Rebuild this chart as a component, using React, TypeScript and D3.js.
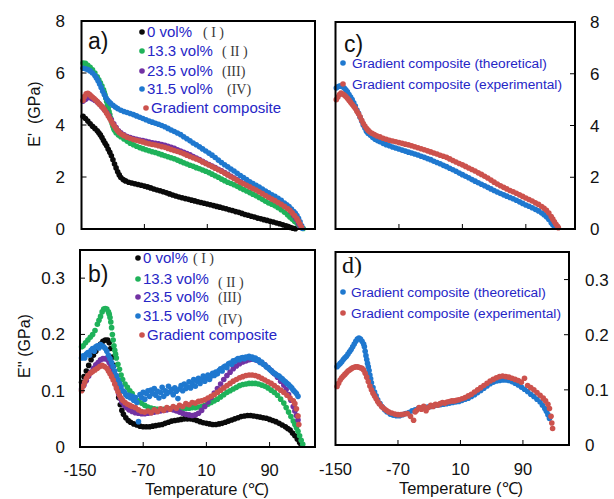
import React from "react";
import * as d3 from "d3";

type Pt = [number, number];

// ---------- Tick values & labels ----------
const xTicks = [-150, -70, 10, 90];
const storageTicks = [0, 2, 4, 6, 8];
const lossTicks = [0, 0.1, 0.2, 0.3];
const volLabels = ["0 vol%", "13.3 vol%", "23.5 vol%", "31.5 vol%", "Gradient composite"];
const romanLabels = ["( I )", "( II )", "(III)", "(IV)", ""];
const modelLabels = ["Gradient composite (theoretical)", "Gradient composite (experimental)"];

// ---------- a) storage modulus E' (GPa) ----------
const storage0: Pt[] = [
  [-148, 4.33], [-145, 4.25], [-142, 4.15], [-139, 4.05], [-136, 3.95], [-133, 3.87], [-130, 3.78], [-128, 3.7],
  [-126, 3.62], [-124, 3.52], [-122, 3.4], [-120, 3.3], [-118, 3.2], [-116, 3.07], [-114, 2.95], [-112, 2.82],
  [-110, 2.66], [-108, 2.5], [-106, 2.35], [-104, 2.2], [-102, 2.08], [-100, 1.98], [-97, 1.9], [-94, 1.85],
  [-90, 1.8], [-86, 1.77], [-82, 1.74], [-78, 1.71], [-74, 1.68], [-70, 1.65], [-66, 1.62], [-62, 1.58],
  [-58, 1.54], [-54, 1.5], [-50, 1.47], [-46, 1.43], [-42, 1.39], [-38, 1.35], [-34, 1.31], [-30, 1.27],
  [-26, 1.23], [-22, 1.2], [-18, 1.17], [-14, 1.14], [-10, 1.11], [-6, 1.08], [-2, 1.05], [2, 1.02],
  [6, 0.99], [10, 0.96], [14, 0.93], [18, 0.9], [22, 0.87], [26, 0.84], [30, 0.81], [34, 0.78],
  [38, 0.74], [42, 0.71], [46, 0.67], [50, 0.64], [54, 0.6], [58, 0.56], [62, 0.53], [66, 0.49],
  [70, 0.46], [74, 0.42], [78, 0.39], [82, 0.36], [86, 0.33], [90, 0.3], [94, 0.27], [98, 0.23],
  [102, 0.2], [106, 0.16], [110, 0.12], [113, 0.09], [116, 0.06], [119, 0.03], [122, 0.01],
];
const storage13: Pt[] = [
  [-148, 6.38], [-145, 6.37], [-142, 6.3], [-139, 6.22], [-136, 6.12], [-133, 6.0], [-130, 5.85], [-128, 5.74],
  [-126, 5.62], [-124, 5.5], [-122, 5.35], [-121, 5.25], [-120, 5.15], [-119, 5.03], [-118, 4.9], [-117, 4.77],
  [-116, 4.65], [-115, 4.52], [-114, 4.4], [-113, 4.27], [-112, 4.15], [-111, 4.05], [-110, 3.95], [-109, 3.87],
  [-108, 3.8], [-106, 3.7], [-103, 3.62], [-100, 3.55], [-96, 3.46], [-92, 3.38], [-88, 3.3], [-84, 3.24],
  [-80, 3.18], [-76, 3.13], [-72, 3.09], [-68, 3.05], [-64, 3.01], [-60, 2.97], [-56, 2.94], [-52, 2.9],
  [-48, 2.86], [-44, 2.82], [-40, 2.78], [-36, 2.74], [-32, 2.7], [-28, 2.65], [-24, 2.6], [-20, 2.55],
  [-16, 2.5], [-12, 2.45], [-8, 2.41], [-4, 2.36], [0, 2.32], [4, 2.27], [8, 2.22], [12, 2.17],
  [16, 2.11], [20, 2.05], [24, 1.99], [28, 1.92], [32, 1.86], [36, 1.8], [40, 1.75], [44, 1.7],
  [48, 1.64], [52, 1.58], [56, 1.52], [60, 1.46], [64, 1.4], [68, 1.34], [72, 1.28], [76, 1.21],
  [80, 1.14], [84, 1.07], [88, 1.0], [92, 0.95], [96, 0.89], [100, 0.82], [104, 0.74], [108, 0.65],
  [112, 0.55], [115, 0.46], [118, 0.38], [121, 0.3], [124, 0.22], [127, 0.13], [130, 0.06], [132, 0.02],
];
const storage23: Pt[] = [
  [-148, 4.92], [-145, 4.98], [-142, 5.05], [-139, 5.05], [-136, 5.0], [-133, 4.95], [-130, 4.88], [-127, 4.8],
  [-124, 4.7], [-121, 4.6], [-118, 4.48], [-115, 4.35], [-112, 4.2], [-109, 4.05], [-106, 3.9], [-103, 3.78],
  [-100, 3.7], [-96, 3.62], [-92, 3.56], [-88, 3.52], [-84, 3.48], [-80, 3.45], [-76, 3.42], [-72, 3.4],
  [-68, 3.37], [-64, 3.34], [-60, 3.32], [-56, 3.3], [-52, 3.28], [-48, 3.25], [-44, 3.22], [-40, 3.18],
  [-36, 3.14], [-32, 3.1], [-28, 3.05], [-24, 3.0], [-20, 2.95], [-16, 2.9], [-12, 2.85], [-8, 2.79],
  [-4, 2.73], [0, 2.67], [4, 2.6], [8, 2.54], [12, 2.48], [16, 2.42], [20, 2.36], [24, 2.3],
  [28, 2.24], [32, 2.17], [36, 2.1], [40, 2.03], [44, 1.96], [48, 1.89], [52, 1.82], [56, 1.76],
  [60, 1.7], [64, 1.64], [68, 1.58], [72, 1.52], [76, 1.45], [80, 1.38], [84, 1.31], [88, 1.24],
  [92, 1.17], [96, 1.11], [100, 1.04], [104, 0.97], [108, 0.89], [112, 0.8], [116, 0.68], [120, 0.52],
  [123, 0.38], [126, 0.22], [128, 0.12],
];
const storage31: Pt[] = [
  [-148, 6.18], [-145, 6.16], [-142, 6.13], [-139, 6.08], [-136, 6.0], [-133, 5.9], [-131, 5.81], [-129, 5.7],
  [-127, 5.58], [-125, 5.44], [-123, 5.3], [-121, 5.17], [-119, 5.05], [-117, 4.96], [-115, 4.89], [-113, 4.83],
  [-110, 4.76], [-107, 4.69], [-104, 4.63], [-100, 4.57], [-96, 4.52], [-92, 4.48], [-88, 4.44], [-84, 4.4],
  [-80, 4.35], [-76, 4.3], [-72, 4.25], [-68, 4.2], [-64, 4.15], [-60, 4.11], [-56, 4.07], [-52, 4.03],
  [-48, 3.98], [-44, 3.93], [-40, 3.87], [-36, 3.81], [-32, 3.75], [-28, 3.69], [-24, 3.63], [-20, 3.55],
  [-16, 3.47], [-12, 3.39], [-8, 3.31], [-4, 3.24], [0, 3.16], [4, 3.08], [8, 3.0], [12, 2.92],
  [16, 2.84], [20, 2.75], [24, 2.65], [28, 2.56], [32, 2.47], [36, 2.39], [40, 2.31], [44, 2.23],
  [48, 2.14], [52, 2.06], [56, 1.98], [60, 1.9], [64, 1.82], [68, 1.75], [72, 1.68], [76, 1.61],
  [80, 1.54], [84, 1.46], [88, 1.39], [92, 1.32], [96, 1.26], [100, 1.18], [104, 1.1], [108, 1.0],
  [111, 0.93], [114, 0.86], [117, 0.77], [120, 0.67], [122, 0.6], [124, 0.52], [126, 0.41], [128, 0.28],
  [130, 0.12], [131, 0.03],
];
const storageGrad: Pt[] = [
  [-148, 4.95], [-146, 5.1], [-144, 5.2], [-142, 5.22], [-140, 5.18], [-138, 5.12], [-136, 5.07], [-134, 5.02],
  [-132, 4.96], [-130, 4.9], [-128, 4.83], [-126, 4.77], [-124, 4.7], [-122, 4.63], [-120, 4.55], [-118, 4.45],
  [-116, 4.35], [-114, 4.25], [-112, 4.14], [-110, 4.04], [-108, 3.95], [-106, 3.86], [-104, 3.78], [-102, 3.71],
  [-99, 3.64], [-96, 3.59], [-92, 3.53], [-88, 3.48], [-84, 3.44], [-80, 3.41], [-76, 3.38], [-72, 3.35],
  [-68, 3.31], [-64, 3.28], [-60, 3.25], [-56, 3.23], [-52, 3.2], [-48, 3.17], [-44, 3.14], [-40, 3.1],
  [-36, 3.06], [-32, 3.02], [-28, 2.98], [-24, 2.94], [-20, 2.89], [-16, 2.84], [-12, 2.79], [-8, 2.74],
  [-4, 2.69], [0, 2.64], [4, 2.58], [8, 2.52], [12, 2.46], [16, 2.4], [20, 2.34], [24, 2.28],
  [28, 2.22], [32, 2.15], [36, 2.08], [40, 2.01], [44, 1.94], [48, 1.87], [52, 1.8], [56, 1.74],
  [60, 1.68], [64, 1.62], [68, 1.56], [72, 1.5], [76, 1.43], [80, 1.36], [84, 1.29], [88, 1.22],
  [92, 1.15], [96, 1.09], [100, 1.02], [104, 0.95], [108, 0.87], [112, 0.79], [115, 0.72], [118, 0.62],
  [121, 0.52], [124, 0.4], [126, 0.3], [128, 0.18], [130, 0.07],
];

// ---------- b) loss modulus E'' (GPa) ----------
const loss0: Pt[] = [
  [-148, 0.115], [-145, 0.125], [-142, 0.135], [-139, 0.145], [-136, 0.155], [-133, 0.163], [-130, 0.17], [-127, 0.177],
  [-124, 0.183], [-121, 0.188], [-118, 0.19], [-115, 0.19], [-113, 0.185], [-111, 0.175], [-109, 0.16], [-107, 0.145],
  [-105, 0.125], [-103, 0.105], [-101, 0.088], [-99, 0.075], [-97, 0.065], [-95, 0.058], [-92, 0.052], [-89, 0.047],
  [-86, 0.044], [-82, 0.041], [-78, 0.039], [-74, 0.037], [-70, 0.036], [-66, 0.036], [-62, 0.036], [-58, 0.037],
  [-54, 0.038], [-50, 0.039], [-46, 0.04], [-42, 0.042], [-38, 0.044], [-34, 0.046], [-30, 0.047], [-26, 0.048],
  [-22, 0.049], [-18, 0.05], [-14, 0.05], [-10, 0.05], [-6, 0.049], [-2, 0.047], [2, 0.045], [6, 0.043],
  [10, 0.042], [14, 0.041], [18, 0.04], [22, 0.04], [26, 0.041], [30, 0.042], [34, 0.044], [38, 0.046],
  [42, 0.048], [46, 0.05], [50, 0.052], [54, 0.054], [58, 0.055], [62, 0.056], [66, 0.056], [70, 0.055],
  [74, 0.054], [78, 0.053], [82, 0.052], [86, 0.051], [90, 0.049], [94, 0.047], [98, 0.045], [102, 0.042],
  [106, 0.039], [110, 0.036], [113, 0.033], [116, 0.03], [119, 0.025], [122, 0.02], [125, 0.014], [128, 0.008],
  [130, 0.004],
];
const loss13: Pt[] = [
  [-148, 0.178], [-146, 0.18], [-143, 0.185], [-140, 0.19], [-137, 0.195], [-134, 0.2], [-131, 0.207], [-128, 0.218],
  [-126, 0.225], [-124, 0.232], [-122, 0.24], [-120, 0.245], [-118, 0.246], [-116, 0.245], [-114, 0.24], [-113, 0.236],
  [-112, 0.23], [-111, 0.222], [-110, 0.212], [-109, 0.2], [-108, 0.19], [-107, 0.18], [-106, 0.172], [-105, 0.165],
  [-104, 0.158], [-102, 0.147], [-100, 0.138], [-98, 0.128], [-96, 0.12], [-93, 0.112], [-90, 0.106], [-87, 0.1],
  [-84, 0.095], [-80, 0.088], [-76, 0.082], [-72, 0.078], [-68, 0.074], [-64, 0.071], [-60, 0.069], [-56, 0.068],
  [-52, 0.067], [-48, 0.067], [-44, 0.067], [-40, 0.067], [-36, 0.068], [-32, 0.068], [-28, 0.069], [-24, 0.069],
  [-20, 0.069], [-16, 0.069], [-12, 0.069], [-8, 0.07], [-4, 0.07], [0, 0.071], [4, 0.072], [8, 0.074],
  [12, 0.076], [16, 0.079], [20, 0.082], [24, 0.085], [28, 0.089], [32, 0.093], [36, 0.097], [40, 0.1],
  [44, 0.103], [48, 0.106], [52, 0.109], [56, 0.111], [60, 0.112], [64, 0.113], [68, 0.113], [72, 0.113],
  [76, 0.112], [80, 0.11], [84, 0.108], [88, 0.105], [92, 0.101], [96, 0.097], [100, 0.092], [104, 0.085],
  [108, 0.078], [111, 0.07], [114, 0.062], [117, 0.054], [120, 0.046], [122, 0.04], [124, 0.034], [126, 0.028],
  [128, 0.02], [130, 0.012], [132, 0.005],
];
const loss23: Pt[] = [
  [-148, 0.103], [-145, 0.11], [-142, 0.118], [-139, 0.126], [-136, 0.133], [-133, 0.14], [-130, 0.146], [-127, 0.15],
  [-124, 0.155], [-121, 0.157], [-118, 0.157], [-115, 0.155], [-113, 0.15], [-111, 0.143], [-109, 0.134], [-107, 0.124],
  [-105, 0.113], [-103, 0.103], [-101, 0.094], [-99, 0.086], [-97, 0.08], [-94, 0.074], [-91, 0.07], [-88, 0.066],
  [-84, 0.063], [-80, 0.061], [-76, 0.06], [-72, 0.059], [-68, 0.059], [-64, 0.06], [-60, 0.061], [-56, 0.062],
  [-52, 0.063], [-48, 0.064], [-44, 0.065], [-40, 0.066], [-36, 0.067], [-32, 0.066], [-28, 0.064], [-24, 0.062],
  [-20, 0.06], [-16, 0.058], [-12, 0.057], [-8, 0.056], [-4, 0.057], [0, 0.06], [4, 0.065], [8, 0.072],
  [12, 0.08], [16, 0.088], [20, 0.096], [24, 0.104], [28, 0.112], [32, 0.12], [36, 0.127], [40, 0.133],
  [44, 0.139], [48, 0.144], [52, 0.148], [56, 0.151], [60, 0.153], [64, 0.155], [68, 0.156], [72, 0.155],
  [76, 0.153], [80, 0.15], [84, 0.146], [88, 0.141], [92, 0.136], [96, 0.13], [100, 0.124], [104, 0.117],
  [108, 0.11], [111, 0.102], [114, 0.093], [117, 0.083], [120, 0.072], [122, 0.064], [124, 0.056], [126, 0.048],
];
const loss31: Pt[] = [
  [-148, 0.158], [-146, 0.162], [-144, 0.158], [-142, 0.165], [-140, 0.168], [-138, 0.163], [-136, 0.172], [-134, 0.175],
  [-132, 0.17], [-130, 0.178], [-128, 0.18], [-126, 0.176], [-124, 0.182], [-122, 0.18], [-120, 0.178], [-118, 0.175],
  [-116, 0.17], [-114, 0.163], [-112, 0.157], [-110, 0.15], [-108, 0.143], [-106, 0.135], [-104, 0.127], [-102, 0.12],
  [-100, 0.113], [-98, 0.107], [-96, 0.1], [-94, 0.098], [-92, 0.093], [-90, 0.09], [-88, 0.092], [-86, 0.087],
  [-84, 0.09], [-82, 0.083], [-80, 0.088], [-78, 0.079], [-76, 0.045], [-74, 0.093], [-72, 0.088], [-70, 0.097],
  [-68, 0.085], [-66, 0.095], [-64, 0.1], [-62, 0.09], [-60, 0.101], [-58, 0.095], [-56, 0.104], [-54, 0.092],
  [-52, 0.099], [-50, 0.087], [-48, 0.097], [-46, 0.106], [-44, 0.09], [-42, 0.1], [-40, 0.095], [-38, 0.108],
  [-36, 0.098], [-34, 0.102], [-32, 0.093], [-30, 0.105], [-28, 0.099], [-26, 0.086], [-24, 0.103], [-22, 0.109],
  [-20, 0.1], [-18, 0.112], [-16, 0.104], [-14, 0.107], [-12, 0.116], [-10, 0.105], [-8, 0.113], [-6, 0.12],
  [-4, 0.108], [-2, 0.117], [0, 0.122], [2, 0.113], [4, 0.119], [6, 0.126], [8, 0.117], [10, 0.124],
  [12, 0.128], [14, 0.12], [16, 0.126], [18, 0.131], [20, 0.127], [22, 0.133], [24, 0.13], [26, 0.136],
  [28, 0.139], [30, 0.135], [32, 0.142], [34, 0.144], [36, 0.141], [38, 0.148], [40, 0.149], [42, 0.147],
  [44, 0.153], [46, 0.152], [48, 0.155], [50, 0.157], [52, 0.155], [54, 0.158], [56, 0.159], [58, 0.157],
  [60, 0.16], [62, 0.159], [64, 0.161], [66, 0.158], [68, 0.16], [70, 0.156], [72, 0.158], [74, 0.154],
  [76, 0.155], [78, 0.15], [80, 0.151], [82, 0.147], [84, 0.146], [86, 0.142], [88, 0.141], [90, 0.138],
  [92, 0.136], [94, 0.133], [96, 0.131], [98, 0.129], [100, 0.127], [102, 0.126], [104, 0.123], [106, 0.121],
  [108, 0.118], [110, 0.116], [112, 0.113], [114, 0.111], [116, 0.108], [118, 0.105], [120, 0.101], [122, 0.098],
  [124, 0.095], [126, 0.09],
];
const lossGrad: Pt[] = [
  [-148, 0.1], [-146, 0.108], [-144, 0.115], [-142, 0.122], [-140, 0.127], [-137, 0.131], [-134, 0.134], [-131, 0.137],
  [-128, 0.14], [-125, 0.143], [-122, 0.145], [-119, 0.143], [-116, 0.14], [-114, 0.135], [-112, 0.13], [-110, 0.125],
  [-108, 0.119], [-106, 0.112], [-104, 0.105], [-102, 0.098], [-100, 0.092], [-98, 0.087], [-96, 0.083], [-93, 0.079],
  [-90, 0.076], [-87, 0.074], [-84, 0.072], [-80, 0.07], [-76, 0.066], [-72, 0.063], [-68, 0.062], [-64, 0.064],
  [-60, 0.061], [-56, 0.066], [-52, 0.063], [-48, 0.068], [-44, 0.065], [-40, 0.07], [-36, 0.067], [-32, 0.072],
  [-28, 0.069], [-24, 0.074], [-20, 0.072], [-16, 0.077], [-12, 0.075], [-8, 0.079], [-4, 0.078], [0, 0.081],
  [4, 0.082], [8, 0.084], [12, 0.087], [16, 0.09], [20, 0.093], [24, 0.097], [28, 0.101], [32, 0.105],
  [36, 0.109], [40, 0.113], [44, 0.117], [48, 0.12], [52, 0.123], [56, 0.125], [60, 0.127], [64, 0.128],
  [68, 0.128], [72, 0.127], [76, 0.125], [80, 0.122], [84, 0.119], [88, 0.116], [92, 0.113], [96, 0.109],
  [100, 0.105], [104, 0.101], [108, 0.097], [112, 0.092], [116, 0.087], [120, 0.082], [122, 0.077], [124, 0.068],
  [126, 0.055], [127, 0.04],
];

// ---------- c) E' gradient composite: theoretical vs experimental ----------
const storageTheo: Pt[] = [
  [-149, 5.45], [-147, 5.5], [-145, 5.52], [-143, 5.52], [-141, 5.5], [-139, 5.45], [-137, 5.38], [-135, 5.3],
  [-133, 5.2], [-131, 5.1], [-129, 5.0], [-127, 4.88], [-125, 4.75], [-123, 4.6], [-121, 4.47], [-119, 4.32],
  [-117, 4.17], [-115, 4.02], [-113, 3.9], [-111, 3.78], [-109, 3.7], [-106, 3.62], [-103, 3.54], [-100, 3.47],
  [-97, 3.42], [-94, 3.37], [-90, 3.31], [-86, 3.26], [-82, 3.22], [-78, 3.17], [-74, 3.13], [-70, 3.09],
  [-66, 3.05], [-62, 3.01], [-58, 2.97], [-54, 2.94], [-50, 2.9], [-46, 2.86], [-42, 2.81], [-38, 2.77],
  [-34, 2.72], [-30, 2.68], [-26, 2.62], [-22, 2.57], [-18, 2.52], [-14, 2.46], [-10, 2.41], [-6, 2.35],
  [-2, 2.29], [2, 2.23], [6, 2.16], [10, 2.1], [14, 2.04], [18, 1.98], [22, 1.91], [26, 1.85],
  [30, 1.79], [34, 1.73], [38, 1.67], [42, 1.61], [46, 1.55], [50, 1.49], [54, 1.43], [58, 1.37],
  [62, 1.32], [66, 1.27], [70, 1.22], [74, 1.17], [78, 1.11], [82, 1.05], [86, 0.99], [90, 0.93],
  [94, 0.88], [98, 0.82], [102, 0.76], [106, 0.7], [110, 0.62], [113, 0.55], [116, 0.47], [119, 0.37],
  [122, 0.24], [124, 0.16], [126, 0.1],
];
const storageExp: Pt[] = [
  [-149, 5.0], [-147, 5.1], [-145, 5.2], [-143, 5.25], [-141, 5.22], [-139, 5.18], [-137, 5.12], [-135, 5.05],
  [-133, 4.98], [-131, 4.9], [-129, 4.82], [-127, 4.74], [-125, 4.66], [-123, 4.55], [-121, 4.45], [-119, 4.34],
  [-117, 4.2], [-115, 4.08], [-113, 3.98], [-111, 3.89], [-109, 3.82], [-107, 3.76], [-104, 3.7], [-101, 3.65],
  [-98, 3.6], [-94, 3.56], [-90, 3.51], [-86, 3.47], [-82, 3.43], [-78, 3.4], [-74, 3.37], [-70, 3.34],
  [-66, 3.31], [-62, 3.28], [-58, 3.25], [-54, 3.22], [-50, 3.18], [-46, 3.14], [-42, 3.1], [-38, 3.06],
  [-34, 3.02], [-30, 2.98], [-26, 2.94], [-22, 2.9], [-18, 2.85], [-14, 2.81], [-10, 2.77], [-6, 2.71],
  [-2, 2.65], [2, 2.59], [6, 2.53], [10, 2.48], [14, 2.42], [18, 2.36], [22, 2.3], [26, 2.24],
  [30, 2.17], [34, 2.11], [38, 2.04], [42, 1.97], [46, 1.89], [50, 1.81], [54, 1.74], [58, 1.67],
  [62, 1.61], [66, 1.55], [70, 1.49], [74, 1.44], [78, 1.38], [82, 1.32], [86, 1.26], [90, 1.2],
  [94, 1.14], [98, 1.08], [102, 1.01], [106, 0.95], [110, 0.87], [113, 0.8], [116, 0.72], [119, 0.62],
  [122, 0.48], [124, 0.38], [126, 0.28], [128, 0.18], [130, 0.1], [131, 0.05],
];

// ---------- d) E'' gradient composite: theoretical vs experimental ----------
const lossTheo: Pt[] = [
  [-148, 0.142], [-146, 0.145], [-144, 0.148], [-142, 0.151], [-140, 0.155], [-138, 0.158], [-136, 0.161], [-134, 0.165],
  [-132, 0.169], [-130, 0.173], [-128, 0.178], [-126, 0.183], [-124, 0.188], [-122, 0.192], [-120, 0.194], [-118, 0.192],
  [-116, 0.188], [-114, 0.183], [-113, 0.178], [-112, 0.17], [-111, 0.162], [-110, 0.155], [-109, 0.148], [-108, 0.142],
  [-107, 0.135], [-106, 0.127], [-105, 0.12], [-104, 0.113], [-102, 0.104], [-100, 0.096], [-98, 0.089], [-96, 0.082],
  [-93, 0.075], [-90, 0.069], [-87, 0.064], [-84, 0.06], [-80, 0.056], [-76, 0.054], [-72, 0.053], [-68, 0.053],
  [-64, 0.055], [-60, 0.057], [-56, 0.059], [-52, 0.062], [-48, 0.064], [-44, 0.066], [-40, 0.067], [-36, 0.068],
  [-32, 0.069], [-28, 0.07], [-24, 0.071], [-20, 0.072], [-16, 0.073], [-12, 0.074], [-8, 0.075], [-4, 0.076],
  [0, 0.077], [4, 0.078], [8, 0.079], [12, 0.081], [16, 0.083], [20, 0.085], [24, 0.088], [28, 0.091],
  [32, 0.095], [36, 0.099], [40, 0.103], [44, 0.107], [48, 0.111], [52, 0.114], [56, 0.116], [60, 0.117],
  [64, 0.118], [68, 0.118], [72, 0.117], [76, 0.115], [80, 0.112], [84, 0.109], [88, 0.105], [92, 0.101],
  [96, 0.097], [100, 0.092], [104, 0.088], [108, 0.083], [112, 0.078], [115, 0.072], [118, 0.066], [120, 0.061],
  [122, 0.055], [124, 0.048],
];
const lossExp: Pt[] = [
  [-148, 0.106], [-146, 0.112], [-144, 0.118], [-142, 0.122], [-140, 0.125], [-138, 0.128], [-136, 0.131], [-134, 0.134],
  [-132, 0.136], [-130, 0.138], [-128, 0.14], [-126, 0.141], [-124, 0.142], [-122, 0.142], [-120, 0.141], [-118, 0.14],
  [-116, 0.139], [-114, 0.136], [-112, 0.13], [-110, 0.123], [-108, 0.115], [-106, 0.107], [-104, 0.1], [-102, 0.094],
  [-100, 0.089], [-98, 0.084], [-96, 0.079], [-94, 0.075], [-91, 0.07], [-88, 0.066], [-85, 0.063], [-82, 0.06],
  [-78, 0.058], [-74, 0.056], [-70, 0.055], [-66, 0.055], [-62, 0.056], [-58, 0.057], [-54, 0.052], [-50, 0.045],
  [-48, 0.06], [-46, 0.063], [-43, 0.068], [-40, 0.065], [-37, 0.07], [-34, 0.062], [-31, 0.068], [-28, 0.072],
  [-25, 0.07], [-22, 0.074], [-19, 0.072], [-16, 0.075], [-13, 0.077], [-10, 0.076], [-7, 0.078], [-4, 0.079],
  [-1, 0.08], [2, 0.08], [5, 0.081], [8, 0.082], [12, 0.084], [16, 0.086], [20, 0.089], [24, 0.092],
  [28, 0.096], [32, 0.1], [36, 0.104], [40, 0.108], [44, 0.112], [48, 0.116], [52, 0.119], [56, 0.122],
  [60, 0.124], [64, 0.125], [68, 0.124], [72, 0.123], [76, 0.121], [80, 0.119], [84, 0.117], [88, 0.114],
  [92, 0.121], [96, 0.108], [100, 0.104], [104, 0.1], [108, 0.095], [112, 0.09], [116, 0.085], [119, 0.08],
  [122, 0.074], [124, 0.066], [126, 0.052], [127, 0.04], [128, 0.03],
];

// ---------- styling ----------
const BLACK = "#0a0a0a";
const GREEN = "#1fb25a";
const PURPLE = "#7232a3";
const BLUE = "#1f78cf";
const RED = "#cc524d";
const TEXT_BLUE = "#2626c6";
const SANS = "'Liberation Sans', Arial, sans-serif";
const SERIF = "'Liberation Serif', 'Times New Roman', serif";
const R = 2.8;

type Scale = d3.ScaleLinear<number, number>;

function Dots({ data, x, y, color }: { data: Pt[]; x: Scale; y: Scale; color: string }) {
  return (
    <g>
      {data.map((d, i) => (
        <circle key={i} cx={x(d[0])} cy={y(d[1])} r={R} fill={color} />
      ))}
    </g>
  );
}

function Frame({ x, y, side, yTicks }: { x: Scale; y: Scale; side: "left" | "right"; yTicks: number[] }) {
  const [x0, x1] = x.range();
  const [y0, y1] = y.range(); // y0 bottom, y1 top
  const tl = 5;
  return (
    <g>
      {xTicks.slice(1).map((t) => (
        <line key={"xt" + t} x1={x(t)} x2={x(t)} y1={y0} y2={y0 - tl} stroke="#000" strokeWidth={1} />
      ))}
      {yTicks.map((t) =>
        side === "left" ? (
          <line key={"yt" + t} x1={x0} x2={x0 + tl} y1={y(t)} y2={y(t)} stroke="#000" strokeWidth={1} />
        ) : (
          <line key={"yt" + t} x1={x1} x2={x1 - tl} y1={y(t)} y2={y(t)} stroke="#000" strokeWidth={1} />
        )
      )}
      <rect x={x0} y={y1} width={x1 - x0} height={y0 - y1} fill="none" stroke="#000" strokeWidth={2} />
    </g>
  );
}

export default function App() {
  // scales
  const xA = d3.scaleLinear().domain([-150, 147]).range([81.5, 315]);
  const yA = d3.scaleLinear().domain([0, 8]).range([229, 21]);
  const xB = d3.scaleLinear().domain([-150, 147.5]).range([80, 315]);
  const yB = d3.scaleLinear().domain([0, 0.35]).range([447, 250]);
  const xC = d3.scaleLinear().domain([-150, 152]).range([335.5, 575]);
  const yC = d3.scaleLinear().domain([0, 8]).range([229, 22]);
  const xD = d3.scaleLinear().domain([-150, 149]).range([335.5, 569]);
  const yD = d3.scaleLinear().domain([0, 0.35]).range([445, 252]);

  const volColors = [BLACK, GREEN, PURPLE, BLUE, RED];
  const storageSeries = [storage0, storage13, storage23, storage31, storageGrad];
  const lossSeries = [loss0, loss13, loss23, loss31, lossGrad];

  const fmtLoss = (v: number) => (v === 0 ? "0" : d3.format(".1f")(v));

  // legend layouts (positions only)
  const legA = { dotX: 142, textX: 147, rows: [32, 51, 71, 89, 108], romanX: [203, 222, 222, 227, 0], romanDy: [0, 0, 0, 0, 0] };
  const legB = { dotX: 138, textX: 143, rows: [258, 279, 297, 316, 335], romanX: [193, 218, 218, 218, 0], romanDy: [0, 3, 0, 3, 0] };

  const renderVolLegend = (L: typeof legA) => (
    <g>
      {volLabels.map((lab, i) => {
        const last = i === volLabels.length - 1;
        const dx = last ? 4 : 0;
        return (
          <g key={lab}>
            <circle cx={L.dotX + dx} cy={L.rows[i]} r={R} fill={volColors[i]} />
            <text x={L.textX + dx} y={L.rows[i] + 5.3} fontFamily={SANS} fontSize={15} fill={TEXT_BLUE}>
              {lab}
            </text>
            {romanLabels[i] && (
              <text x={L.romanX[i]} y={L.rows[i] + 4.5 + L.romanDy[i]} fontFamily={SERIF} fontSize={14} fill="#3a3a3a" style={{ whiteSpace: "pre" }}>
                {romanLabels[i]}
              </text>
            )}
          </g>
        );
      })}
    </g>
  );

  const renderModelLegend = (dotX: number, textX: number, rows: number[]) => (
    <g>
      {modelLabels.map((lab, i) => (
        <g key={lab}>
          <circle cx={dotX} cy={rows[i]} r={R} fill={i === 0 ? BLUE : RED} />
          <text x={textX} y={rows[i] + 4.8} fontFamily={SANS} fontSize={13.7} fill={TEXT_BLUE}>
            {lab}
          </text>
        </g>
      ))}
    </g>
  );

  return (
    <svg width={614} height={499} style={{ position: "absolute", left: 0, top: 0, background: "#fff" }}>
      <rect x={0} y={0} width={614} height={499} fill="#fff" />

      {/* Panel a */}
      {storageSeries.map((s, i) => (
        <Dots key={"a" + i} data={s} x={xA} y={yA} color={volColors[i]} />
      ))}
      <Frame x={xA} y={yA} side="left" yTicks={storageTicks.slice(1, -1)} />
      {storageTicks.map((t) => (
        <text key={"ya" + t} x={65} y={yA(t) + 6} textAnchor="end" fontFamily={SANS} fontSize={17} fill="#111">
          {t}
        </text>
      ))}
      <text x={88} y={49} fontFamily={SANS} fontSize={23} fill="#111">a)</text>
      {renderVolLegend(legA)}
      <text transform={`translate(40,114) rotate(-90)`} textAnchor="middle" fontFamily={SANS} fontSize={16} fill="#111" style={{ whiteSpace: "pre" }}>
        {"E'  (GPa)"}
      </text>

      {/* Panel b */}
      {lossSeries.map((s, i) => (
        <Dots key={"b" + i} data={s} x={xB} y={yB} color={volColors[i]} />
      ))}
      <Frame x={xB} y={yB} side="left" yTicks={lossTicks.slice(1)} />
      {lossTicks.map((t) => (
        <text key={"yb" + t} x={65} y={yB(t) + 6} textAnchor="end" fontFamily={SANS} fontSize={17} fill="#111">
          {fmtLoss(t)}
        </text>
      ))}
      {xTicks.map((t) => (
        <text key={"xb" + t} x={xB(t)} y={476} textAnchor="middle" fontFamily={SANS} fontSize={16.5} fill="#111">
          {t}
        </text>
      ))}
      <text x={207} y={495} textAnchor="middle" fontFamily={SANS} fontSize={16.5} fill="#111">Temperature (℃)</text>
      <text x={88} y={282} fontFamily={SANS} fontSize={23} fill="#111">b)</text>
      {renderVolLegend(legB)}
      <text transform={`translate(30,346) rotate(-90)`} textAnchor="middle" fontFamily={SANS} fontSize={16} fill="#111">
        {"E'' (GPa)"}
      </text>

      {/* Panel c */}
      <Dots data={storageTheo} x={xC} y={yC} color={BLUE} />
      <Dots data={storageExp} x={xC} y={yC} color={RED} />
      <Frame x={xC} y={yC} side="right" yTicks={storageTicks.slice(1, -1)} />
      {storageTicks.map((t) => (
        <text key={"yc" + t} x={590} y={yC(t) + 6} textAnchor="start" fontFamily={SANS} fontSize={17} fill="#111">
          {t}
        </text>
      ))}
      <text x={344} y={52} fontFamily={SANS} fontSize={23} fill="#111">c)</text>
      {renderModelLegend(343, 352, [63, 84])}

      {/* Panel d */}
      <Dots data={lossTheo} x={xD} y={yD} color={BLUE} />
      <Dots data={lossExp} x={xD} y={yD} color={RED} />
      <Frame x={xD} y={yD} side="right" yTicks={lossTicks.slice(1)} />
      {lossTicks.map((t) => (
        <text key={"yd" + t} x={585} y={yD(t) + 6} textAnchor="start" fontFamily={SANS} fontSize={17} fill="#111">
          {fmtLoss(t)}
        </text>
      ))}
      {xTicks.map((t) => (
        <text key={"xd" + t} x={xD(t)} y={475} textAnchor="middle" fontFamily={SANS} fontSize={16.5} fill="#111">
          {t}
        </text>
      ))}
      <text x={461} y={494} textAnchor="middle" fontFamily={SANS} fontSize={16.5} fill="#111">Temperature (℃)</text>
      <text x={342} y={273} fontFamily={SERIF} fontSize={24} fill="#111">d)</text>
      {renderModelLegend(343, 351, [292, 313])}
    </svg>
  );
}
